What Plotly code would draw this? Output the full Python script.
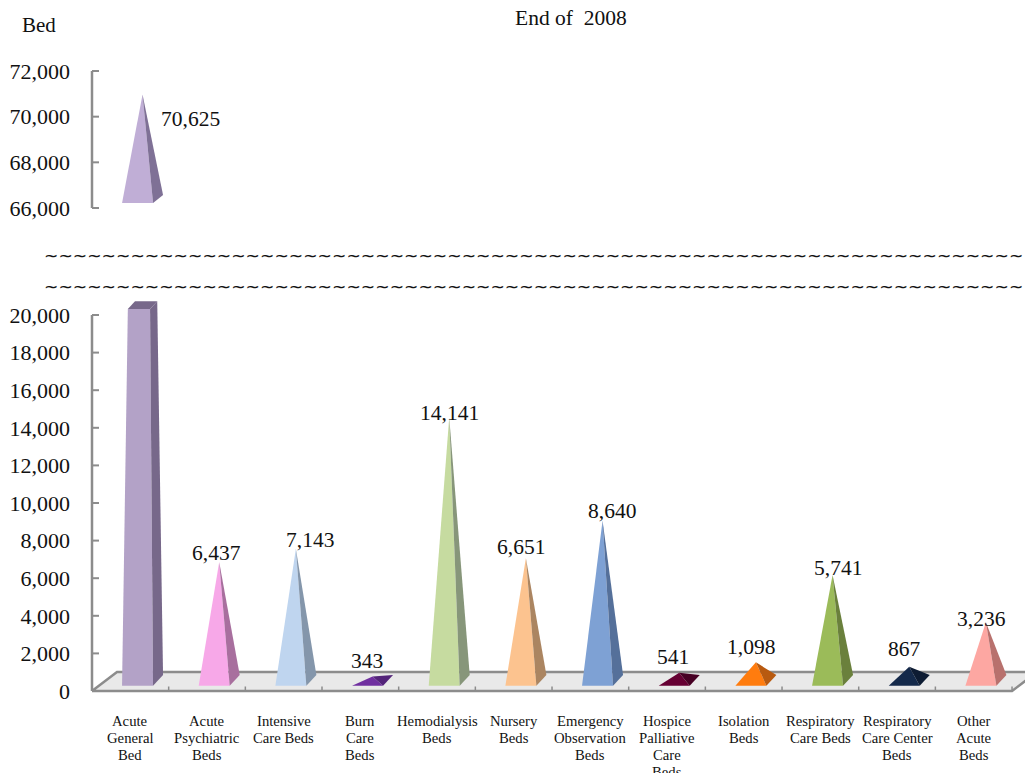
import plotly.graph_objects as go

# Hospital bed counts by type, end of 2008
categories = ["Acute<br>General<br>Bed", "Acute<br>Psychiatric<br>Beds", "Intensive<br>Care Beds",
              "Burn<br>Care<br>Beds", "Hemodialysis<br>Beds", "Nursery<br>Beds",
              "Emergency<br>Observation<br>Beds", "Hospice<br>Palliative<br>Care<br>Beds",
              "Isolation<br>Beds", "Respiratory<br>Care Beds", "Respiratory<br>Care Center<br>Beds",
              "Other<br>Acute<br>Beds"]
bed_counts = [70625, 6437, 7143, 343, 14141, 6651, 8640, 541, 1098, 5741, 867, 3236]
front_colors = ["#b3a2c7", "#f7a8e8", "#bfd5ef", "#7030a0", "#c6dba0", "#fcc38f",
                "#7ea1d4", "#660033", "#ff7c0e", "#9bbb59", "#14294a", "#fda7a2"]
side_colors = ["#77688a", "#a86f9e", "#8496ab", "#53247a", "#87967a", "#ab8561",
               "#55709a", "#470024", "#b85a10", "#6a803c", "#0e1c33", "#b8716d"]
lower_ticks = list(range(0, 20001, 2000))
upper_ticks = list(range(66000, 72001, 2000))
# Value label nudges in pixels (right, up) for the lower panel
label_dx = [0, 9.5, 26.3, 7, 12, 7.3, 21.7, 6, 7.3, 17.7, 7, 7.3]
label_dy = [0, 17, 16.7, 23.6, 12, 19, 17.6, 23.8, 23.4, 15, 25.7, 11.2]

FONT = "Liberation Serif"
INK = "#111111"
W, H = 1025, 773
AXIS_LEFT, SLOT = 92, 76.67
LOWER_Y0, LOWER_Y1 = 691, 315
UPPER_Y0, UPPER_Y1 = 208, 71
LOWER_MAX = lower_ticks[-1]
UPPER_MIN, UPPER_MAX = upper_ticks[0], upper_ticks[-1]
GREY = "#8c8c8c"
# Spare pixels around each plot area so edge strokes and the cut column stay whole
PAD_LEFT, PAD_LOW_TOP, PAD_EDGE = 12, 20, 5

px_x = 1 / SLOT
px_low = LOWER_MAX / (LOWER_Y0 - LOWER_Y1)
px_up = (UPPER_MAX - UPPER_MIN) / (UPPER_Y0 - UPPER_Y1)


def lerp(a, b, t):
    return (a[0] + (b[0] - a[0]) * t, a[1] + (b[1] - a[1]) * t)


def poly(points, color, xaxis="x", yaxis="y"):
    xs = [p[0] for p in points] + [points[0][0]]
    ys = [p[1] for p in points] + [points[0][1]]
    return go.Scatter(x=xs, y=ys, xaxis=xaxis, yaxis=yaxis, mode="lines", fill="toself",
                      fillcolor=color, line=dict(width=0, color=color), hoverinfo="skip",
                      showlegend=False)


def pyramid(pos, value, floor, unit, lift, depth, front, side, xaxis, yaxis, axis_max=None):
    """Front and right faces of a pyramid; cut flat when it passes axis_max."""
    fl = (pos - 8.3 * px_x, floor + lift * unit)
    fr = (pos + 22.7 * px_x, floor + lift * unit)
    br = (pos + 32.7 * px_x, floor + (lift + depth) * unit)
    bl = (pos + 1.7 * px_x, floor + (lift + depth) * unit)
    apex = (pos + 12.2 * px_x, value + 8 * unit)
    if axis_max is not None and value > axis_max:
        t = axis_max / value
        tfl, tfr, tbr, tbl = (lerp(p, apex, t) for p in (fl, fr, br, bl))
        return [poly([fl, fr, tfr, tfl], front, xaxis, yaxis),
                poly([fr, br, tbr, tfr], side, xaxis, yaxis),
                poly([tfl, tfr, tbr, tbl], side, xaxis, yaxis)]
    return [poly([fl, fr, apex], front, xaxis, yaxis), poly([fr, br, apex], side, xaxis, yaxis)]


def line_trace(xs, ys, width, xaxis="x", yaxis="y"):
    return go.Scatter(x=xs, y=ys, xaxis=xaxis, yaxis=yaxis, mode="lines",
                      line=dict(color=GREY, width=width), hoverinfo="skip", showlegend=False)


def value_axis(ticks, xaxis, yaxis):
    """Axis line with tick marks pointing into the plot."""
    xs, ys = [], []
    for tick in ticks:
        xs += [left_edge, left_edge + 7 * px_x, None]
        ys += [tick, tick, None]
    return [line_trace([left_edge, left_edge], [ticks[0], ticks[-1]], 2.5, xaxis, yaxis),
            line_trace(xs, ys, 2, xaxis, yaxis)]


fig = go.Figure()
positions = list(range(1, len(categories) + 1))
left_edge, right_edge = 0.5, len(categories) + 0.5
x_range = [left_edge - PAD_LEFT * px_x, left_edge + (W - AXIS_LEFT) / SLOT]

# Chart floor with its back edge
fig.add_trace(poly([(left_edge + 3 * px_x, 1 * px_low), (left_edge + 25 * px_x, 19 * px_low),
                    (right_edge + 25 * px_x, 19 * px_low), (right_edge, 0)], "#e9e9e9"))
fig.add_trace(line_trace(
    [left_edge, left_edge + 25 * px_x, right_edge + 25 * px_x, right_edge, left_edge],
    [0, 19 * px_low, 19 * px_low, 0, 0], 2.5))

fig.add_traces(value_axis(lower_ticks, "x", "y"))
fig.add_traces(value_axis(upper_ticks, "x2", "y2"))

# Slot dividers rising from the front edge
tick_x, tick_y = [], []
for i in range(len(categories) + 1):
    tick_x += [left_edge + i, left_edge + i, None]
    tick_y += [0, 4.5 * px_low, None]
fig.add_trace(line_trace(tick_x, tick_y, 1.5))

for pos, value, front, side in zip(positions, bed_counts, front_colors, side_colors):
    for trace in pyramid(pos, value, 0, px_low, 5.3, 10.7, front, side, "x", "y", LOWER_MAX):
        fig.add_trace(trace)

# The largest category again on the raised scale
for trace in pyramid(positions[0], bed_counts[0], UPPER_MIN, px_up, 5, 8,
                     "#c0aed6", "#7f7196", "x2", "y2"):
    fig.add_trace(trace)

annotations = []
for pos, value, dx, dy in list(zip(positions, bed_counts, label_dx, label_dy))[1:]:
    annotations.append(dict(x=pos, y=value, xref="x", yref="y", text=f"{value:,}", showarrow=False,
                            xshift=dx, yshift=dy, xanchor="center", yanchor="middle",
                            font=dict(family=FONT, size=21.5, color=INK)))
annotations.append(dict(x=positions[0], y=bed_counts[0], xref="x2", yref="y2",
                        text=f"{bed_counts[0]:,}", showarrow=False, xshift=60, yshift=-16.6,
                        xanchor="center", yanchor="middle",
                        font=dict(family=FONT, size=21.5, color=INK)))
annotations.append(dict(x=571 / W, y=1 - 18 / H, xref="paper", yref="paper", text="End of  2008",
                        showarrow=False, xanchor="center", yanchor="middle",
                        font=dict(family=FONT, size=21.5, color=INK)))
annotations.append(dict(x=20 / W, y=1 - 25 / H, xref="paper", yref="paper", text="Bed",
                        showarrow=False, xanchor="left", yanchor="middle",
                        font=dict(family=FONT, size=21, color=INK)))
# Axis break between the two scales
for break_y in (256, 287):
    annotations.append(dict(x=42 / W, y=1 - break_y / H, xref="paper", yref="paper", text="~" * 68,
                            showarrow=False, xanchor="left", yanchor="middle", align="left",
                            font=dict(family="DejaVu Sans", size=17.2, color=INK)))
# Category names, one text per line for a tight leading
for pos, name in zip(positions, categories):
    for row, part in enumerate(name.split("<br>")):
        annotations.append(dict(x=pos, y=1 - (721 + 17 * row) / H, xref="x", yref="paper",
                                text=part, showarrow=False, xanchor="center", yanchor="middle",
                                font=dict(family=FONT, size=14.7, color=INK)))

x_axis_style = dict(domain=[(AXIS_LEFT - PAD_LEFT) / W, 1], range=x_range, showticklabels=False,
                    ticks="", showline=False, showgrid=False, zeroline=False)
y_axis_style = dict(showline=False, showgrid=False, zeroline=False, tickformat=",d", ticks="",
                    tickmode="array", ticklabelstandoff=9,
                    tickfont=dict(family=FONT, size=22, color=INK))

fig.update_layout(
    width=W, height=H, margin=dict(l=0, r=0, t=0, b=0, pad=0, autoexpand=False),
    paper_bgcolor="white", plot_bgcolor="white", showlegend=False,
    annotations=annotations,
    xaxis=dict(anchor="y", **x_axis_style),
    xaxis2=dict(anchor="y2", **x_axis_style),
    yaxis=dict(domain=[1 - (LOWER_Y0 + PAD_EDGE) / H, 1 - (LOWER_Y1 - PAD_LOW_TOP) / H],
               range=[-PAD_EDGE * px_low, LOWER_MAX + PAD_LOW_TOP * px_low], anchor="x",
               tickvals=lower_ticks, **y_axis_style),
    yaxis2=dict(domain=[1 - (UPPER_Y0 + PAD_EDGE) / H, 1 - (UPPER_Y1 - PAD_EDGE) / H],
                range=[UPPER_MIN - PAD_EDGE * px_up, UPPER_MAX + PAD_EDGE * px_up], anchor="x2",
                tickvals=upper_ticks, **y_axis_style),
)

fig.write_html("out.html")
